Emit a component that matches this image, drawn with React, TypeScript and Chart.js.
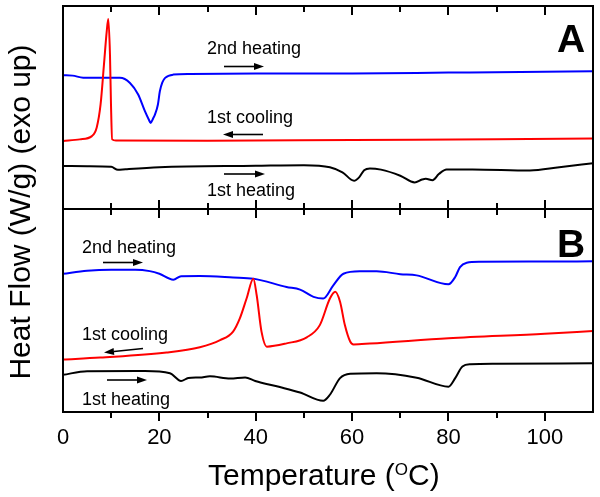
import { useEffect, useRef } from "react";
import { Chart, registerables } from "chart.js";

Chart.register(...registerables);

// ---------- data ----------
// X axis: temperature (°C)
const xMin = 0;
const xMax = 110;
const xStep = 10;
const xLabelTicks = [0, 20, 40, 60, 80, 100];

// Heat flow in arbitrary units (exo up); each panel spans 0..10, panel A drawn above panel B
const panelOffsetA = 10;
const panelOffsetB = 0;

// Panel A — 2nd heating (blue)
const tA2ndHeating = [0, 2, 4.2, 8, 11.8, 13.9, 15.6, 17, 17.8, 18.2, 18.7, 19.1, 19.7, 20.1, 20.6, 21.2, 22.9, 26.4, 40, 60, 80, 95, 110];
const hfA2ndHeating = [6.59, 6.57, 6.47, 6.46, 6.46, 6.21, 5.64, 4.82, 4.41, 4.24, 4.46, 4.66, 5.15, 5.8, 6.23, 6.46, 6.62, 6.65, 6.67, 6.68, 6.72, 6.75, 6.79];

// Panel A — 1st cooling (red)
const tA1stCooling = [0, 3.5, 6, 7, 7.8, 8.5, 9.07, 9.4, 9.75, 9.96, 10.2, 11, 30, 60, 90, 110];
const hfA1stCooling = [3.35, 3.43, 3.59, 4.02, 5.15, 7.11, 8.74, 9.36, 7.6, 5.15, 3.43, 3.37, 3.36, 3.4, 3.43, 3.47];

// Panel A — 1st heating (black)
const tA1stHeating = [0, 5, 10, 11.4, 13, 20, 40, 50, 55.4, 58, 60.4, 61.5, 62.5, 63.7, 66, 70, 73, 74.5, 75.3, 76.7, 78, 79.6, 85, 96.9, 103, 110];
const hfA1stHeating = [2.12, 2.11, 2.08, 1.93, 1.96, 2.06, 2.13, 2.16, 2.06, 1.81, 1.39, 1.57, 1.91, 2.0, 1.94, 1.64, 1.31, 1.45, 1.49, 1.42, 1.72, 1.95, 1.95, 1.9, 2.06, 2.25];

// Panel B — 2nd heating (blue)
const tB2ndHeating = [0, 5, 10, 15, 18, 20, 22.9, 24.5, 28.4, 35.3, 39.5, 46.4, 49.2, 52, 54, 56.1, 58.2, 61.6, 65.1, 70, 73.4, 80, 81.4, 82.4, 83.8, 86.5, 100, 110];
const hfB2ndHeating = [6.81, 6.96, 7.01, 7.01, 6.94, 6.81, 6.52, 6.69, 6.7, 6.63, 6.57, 6.16, 6.03, 5.67, 5.59, 6.24, 6.81, 6.93, 6.93, 6.79, 6.73, 6.29, 6.65, 7.14, 7.35, 7.4, 7.41, 7.42];

// Panel B — 1st cooling (red)
const tB1stCooling = [0, 7.7, 21.5, 28.4, 32.6, 35.3, 36.7, 38.1, 39.5, 40.2, 41.2, 42.3, 46.4, 50.6, 53.3, 55.4, 56.5, 57.5, 58.5, 59.6, 60.3, 63.7, 80, 100, 110];
const hfB1stCooling = [2.58, 2.68, 2.93, 3.19, 3.54, 3.96, 4.61, 5.59, 6.57, 5.75, 3.96, 3.22, 3.38, 3.68, 4.28, 5.59, 5.92, 5.43, 4.28, 3.47, 3.33, 3.37, 3.63, 3.85, 3.99];

// Panel B — 1st heating (black)
const tB1stHeating = [0, 5, 17, 22.2, 24.5, 26, 28.4, 30.5, 34.7, 37.8, 39.9, 45, 49.2, 54, 55.4, 57.5, 59.6, 65.1, 73.4, 80, 81.4, 82.9, 84.6, 90, 110];
const hfB1stHeating = [1.83, 2.01, 2.02, 1.91, 1.53, 1.67, 1.7, 1.76, 1.65, 1.7, 1.53, 1.23, 0.96, 0.55, 0.85, 1.67, 1.88, 1.91, 1.69, 1.25, 1.67, 2.24, 2.35, 2.38, 2.4];

const FONT = "'Liberation Sans', Arial, Helvetica, sans-serif";

function pts(t: number[], v: number[], off: number) {
  return t.map((x, i) => ({ x, y: v[i] + off }));
}

function series(t: number[], v: number[], off: number, color: string) {
  return {
    data: pts(t, v, off),
    borderColor: color,
    backgroundColor: color,
    borderWidth: 2,
    pointRadius: 0,
    fill: false,
    cubicInterpolationMode: "monotone" as const,
  };
}

function arrow(ctx: CanvasRenderingContext2D, x1: number, y1: number, x2: number, y2: number) {
  const ang = Math.atan2(y2 - y1, x2 - x1);
  const hl = 10, hw = 3.5;
  const bx = x2 - hl * Math.cos(ang);
  const by = y2 - hl * Math.sin(ang);
  ctx.beginPath();
  ctx.moveTo(x1, y1);
  ctx.lineTo(bx, by);
  ctx.lineWidth = 1.6;
  ctx.stroke();
  ctx.beginPath();
  ctx.moveTo(x2, y2);
  ctx.lineTo(bx - hw * Math.sin(ang), by + hw * Math.cos(ang));
  ctx.lineTo(bx + hw * Math.sin(ang), by - hw * Math.cos(ang));
  ctx.closePath();
  ctx.fill();
}

const framePlugin = {
  id: "dscFrame",
  afterDatasetsDraw(chart: any) {
    const { ctx, chartArea: a, scales } = chart;
    const xs = scales.x;
    const ys = scales.y;
    const mid = ys.getPixelForValue(panelOffsetA);
    ctx.save();
    ctx.strokeStyle = "#000";
    ctx.fillStyle = "#000";
    ctx.lineWidth = 2;
    ctx.strokeRect(a.left, a.top, a.right - a.left, a.bottom - a.top);
    ctx.beginPath();
    ctx.moveTo(a.left, mid);
    ctx.lineTo(a.right, mid);
    ctx.stroke();
    ctx.lineWidth = 2;
    for (let v = xMin + xStep; v < xMax; v += xStep) {
      const px = Math.round(xs.getPixelForValue(v));
      const len = v % 20 === 0 ? 9 : 6;
      ctx.beginPath();
      ctx.moveTo(px, a.top);
      ctx.lineTo(px, a.top + len);
      ctx.moveTo(px, mid - len);
      ctx.lineTo(px, mid + len);
      ctx.moveTo(px, a.bottom);
      ctx.lineTo(px, a.bottom + len);
      ctx.stroke();
    }
    ctx.font = `18px ${FONT}`;
    ctx.textAlign = "left";
    ctx.textBaseline = "alphabetic";
    ctx.fillText("2nd heating", 207, 54);
    ctx.fillText("1st cooling", 207, 123);
    ctx.fillText("1st heating", 207, 196);
    ctx.fillText("2nd heating", 82, 253);
    ctx.fillText("1st cooling", 82, 340);
    ctx.fillText("1st heating", 82, 405);
    arrow(ctx, 224, 66.5, 264, 66.5);
    arrow(ctx, 263, 134.5, 223, 134.5);
    arrow(ctx, 224, 174, 265, 174);
    arrow(ctx, 103, 262.5, 143, 262.5);
    arrow(ctx, 143, 348.5, 104, 352.5);
    arrow(ctx, 107, 380, 147, 380);
    ctx.font = `bold 39px ${FONT}`;
    ctx.textAlign = "center";
    ctx.textBaseline = "middle";
    ctx.fillText("A", 571, 41);
    ctx.fillText("B", 571, 246);
    ctx.textAlign = "left";
    ctx.textBaseline = "alphabetic";
    ctx.font = `30px ${FONT}`;
    const part1 = "Temperature (";
    let xx = 208;
    ctx.fillText(part1, xx, 485);
    xx += ctx.measureText(part1).width;
    ctx.font = `17px ${FONT}`;
    ctx.fillText("O", xx, 475);
    xx += ctx.measureText("O").width;
    ctx.font = `30px ${FONT}`;
    ctx.fillText("C)", xx, 485);
    ctx.save();
    ctx.translate(22, 212);
    ctx.rotate(-Math.PI / 2);
    ctx.textAlign = "center";
    ctx.textBaseline = "middle";
    ctx.font = `30px ${FONT}`;
    ctx.fillText("Heat Flow (W/g) (exo up)", 0, 0);
    ctx.restore();
    ctx.restore();
  },
};

export default function App() {
  const ref = useRef<HTMLCanvasElement | null>(null);
  useEffect(() => {
    if (!ref.current) return;
    const chart = new Chart(ref.current, {
      type: "line",
      data: {
        datasets: [
          series(tA1stHeating, hfA1stHeating, panelOffsetA, "#000000"),
          series(tA1stCooling, hfA1stCooling, panelOffsetA, "#ff0000"),
          series(tA2ndHeating, hfA2ndHeating, panelOffsetA, "#0000ff"),
          series(tB1stHeating, hfB1stHeating, panelOffsetB, "#000000"),
          series(tB1stCooling, hfB1stCooling, panelOffsetB, "#ff0000"),
          series(tB2ndHeating, hfB2ndHeating, panelOffsetB, "#0000ff"),
        ] as any,
      },
      options: {
        animation: false,
        responsive: false,
        devicePixelRatio: 1,
        layout: { padding: { left: 63, right: 7, top: 6, bottom: 32.6 } },
        plugins: { legend: { display: false }, tooltip: { enabled: false } },
        scales: {
          x: {
            type: "linear",
            min: xMin,
            max: xMax,
            grid: { display: false, drawTicks: false },
            border: { display: false },
            afterFit: (scale: any) => {
              scale.paddingLeft = 0;
              scale.paddingRight = 0;
            },
            ticks: {
              stepSize: xStep,
              autoSkip: false,
              maxRotation: 0,
              padding: 13,
              color: "#000",
              font: { family: FONT, size: 22 },
              callback: (v: any) => (xLabelTicks.includes(Number(v)) ? String(v) : ""),
            },
          },
          y: {
            type: "linear",
            min: 0,
            max: 20,
            display: false,
          },
        },
      },
      plugins: [framePlugin],
    });
    return () => chart.destroy();
  }, []);
  return (
    <div style={{ position: "fixed", left: 0, top: 0, width: 600, height: 497, background: "#fff" }}>
      <canvas ref={ref} width={600} height={497} style={{ width: 600, height: 497, display: "block" }} />
    </div>
  );
}
